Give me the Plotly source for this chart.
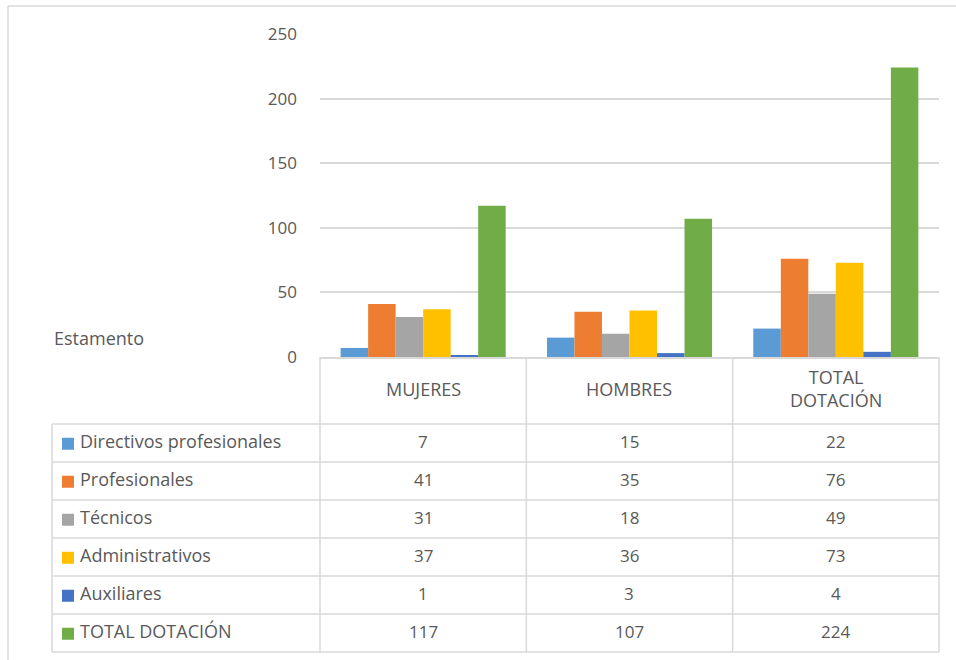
import plotly.graph_objects as go

categories = ["MUJERES", "HOMBRES", "TOTAL DOTACIÓN"]
header_labels = ["MUJERES", "HOMBRES", "TOTAL<br>DOTACIÓN"]
series_names = ["Directivos profesionales", "Profesionales", "Técnicos",
                "Administrativos", "Auxiliares", "TOTAL DOTACIÓN"]
directivos = [7, 15, 22]
profesionales = [41, 35, 76]
tecnicos = [31, 18, 49]
administrativos = [37, 36, 73]
auxiliares = [1, 3, 4]
total_dotacion = [117, 107, 224]
series_values = [directivos, profesionales, tecnicos, administrativos, auxiliares, total_dotacion]
colors = ["#5B9BD5", "#ED7D31", "#A5A5A5", "#FFC000", "#4472C4", "#70AD47"]
y_ticks = [0, 50, 100, 150, 200, 250]
table_title = "Estamento"

W, H = 956, 660
FONT = "Open Sans"
TXT = "#595959"
GRID = "#D9D9D9"
WORD_SIZE = 18
NUM_SIZE = 17

# pixel layout
px_left_plot, px_right = 320, 939
px_zero, px_top = 357, 34
px_table_left, px_table_bottom = 52, 652
row_h = 38.0
col_w = (px_right - px_left_plot) / 3.0
header_rows = (px_table_bottom - 6 * row_h - px_zero) / row_h

fig = go.Figure()
for name, vals, c in zip(series_names, series_values, colors):
    fig.add_trace(go.Bar(x=categories, y=vals, name=name, marker=dict(color=c, line=dict(width=0)),
                         xaxis="x", yaxis="y", showlegend=False, hoverinfo="x+y+name"))

# table axes ranges (in column / row units)
x2_lo, x2_hi = -0.5 - (px_left_plot - px_table_left) / col_w, 2.5
pad_x = 0.04
pad_y = 0.12
x2_range = [x2_lo - pad_x, x2_hi + pad_x]
y2_range = [6 + pad_y, -header_rows - pad_y]
dom_x2 = [(px_table_left - pad_x * col_w) / W, (px_right + pad_x * col_w) / W]
dom_y2 = [(H - (px_table_bottom + pad_y * row_h)) / H, (H - (px_zero - pad_y * row_h)) / H]

shapes = []
def line(x0, y0, x1, y1):
    shapes.append(dict(type="line", xref="x2", yref="y2", x0=x0, y0=y0, x1=x1, y1=y1,
                       line=dict(color=GRID, width=1.5), layer="above"))

for r in range(7):
    line(x2_lo, r, x2_hi, r)
line(x2_lo, 0, x2_lo, 6)
for cx in [-0.5, 0.5, 1.5, 2.5]:
    line(cx, -header_rows, cx, 6)

annotations = []
for i, lab in enumerate(header_labels):
    annotations.append(dict(xref="x2", yref="y2", x=i, y=-header_rows / 2 - 0.04, text=lab, showarrow=False,
                            font=dict(family=FONT, size=WORD_SIZE, color=TXT), align="center"))
sw = 12.0
for r, (name, vals, c) in enumerate(zip(series_names, series_values, colors)):
    sx0 = x2_lo + 10 / col_w
    shapes.append(dict(type="rect", xref="x2", yref="y2", x0=sx0, x1=sx0 + sw / col_w,
                       y0=r + 0.5 - sw / 2 / row_h + 0.02, y1=r + 0.5 + sw / 2 / row_h + 0.02,
                       fillcolor=c, line=dict(width=0), layer="above"))
    annotations.append(dict(xref="x2", yref="y2", x=x2_lo + 26 / col_w, y=r + 0.45, text=name,
                            showarrow=False, xanchor="left",
                            font=dict(family=FONT, size=WORD_SIZE, color=TXT)))
    for i, v in enumerate(vals):
        annotations.append(dict(xref="x2", yref="y2", x=i, y=r + 0.45, text=str(v), showarrow=False,
                                font=dict(family=FONT, size=NUM_SIZE, color=TXT)))

annotations.append(dict(xref="paper", yref="paper", x=52 / W, y=(H - 338) / H, text=table_title,
                        showarrow=False, xanchor="left", yanchor="middle",
                        font=dict(family=FONT, size=WORD_SIZE, color=TXT)))

# outer frame (left and top edges visible)
shapes.append(dict(type="line", xref="paper", yref="paper", x0=8 / W, x1=8 / W, y0=0, y1=(H - 6) / H,
                   line=dict(color=GRID, width=1.5)))
shapes.append(dict(type="line", xref="paper", yref="paper", x0=8 / W, x1=1, y0=(H - 6) / H, y1=(H - 6) / H,
                   line=dict(color=GRID, width=1.5)))

fig.update_layout(
    width=W, height=H, margin=dict(l=0, r=0, t=0, b=0, pad=0, autoexpand=False),
    paper_bgcolor="white", plot_bgcolor="rgba(0,0,0,0)",
    barmode="group", bargap=0.2, bargroupgap=0,
    xaxis=dict(domain=[px_left_plot / W, px_right / W], showticklabels=False, ticks="",
               showline=True, linecolor=GRID, linewidth=1.5, showgrid=False, fixedrange=True,
               automargin=False),
    yaxis=dict(domain=[(H - px_zero) / H, (H - px_top) / H], range=[0, 250], tickvals=y_ticks,
               showgrid=True, gridcolor=GRID, gridwidth=1.5, zeroline=False, showline=False,
               ticks="", ticklabelstandoff=22, tickfont=dict(family=FONT, size=NUM_SIZE, color=TXT),
               fixedrange=True, automargin=False),
    xaxis2=dict(domain=dom_x2, range=x2_range, visible=False, anchor="y2", fixedrange=True,
                automargin=False),
    yaxis2=dict(domain=dom_y2, range=y2_range, visible=False, anchor="x2", fixedrange=True,
                automargin=False),
    shapes=shapes, annotations=annotations,
    font=dict(family=FONT, color=TXT),
)

fig.write_html("out.html", config={"displayModeBar": False},
               post_script=("document.documentElement.style.margin='0';"
                            "document.documentElement.style.overflow='hidden';"
                            "document.body.style.margin='0';document.body.style.padding='0';"
                            "document.body.style.overflow='hidden';"
                            "var d=document.getElementById('{plot_id}');"
                            "d.style.position='fixed';d.style.left='0px';d.style.top='0px';"))
